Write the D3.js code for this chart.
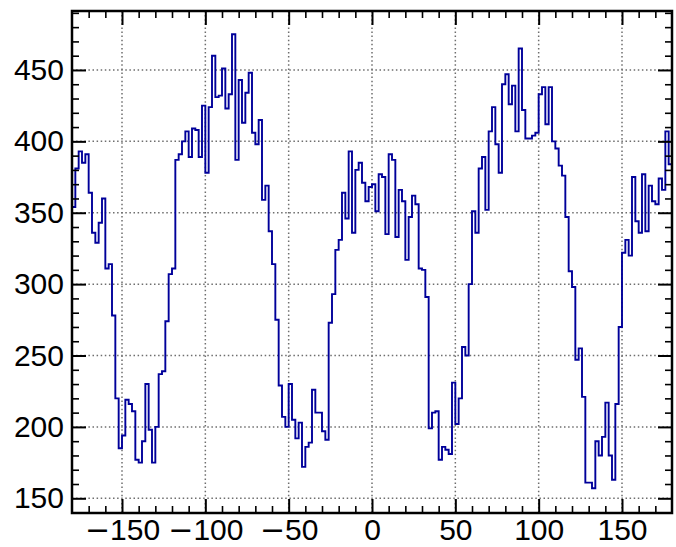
<!DOCTYPE html>
<html>
<head>
<meta charset="utf-8">
<script src="https://cdn.jsdelivr.net/npm/d3@7"></script>
<style>
  body { margin: 0; background: #fff; }
  #chart text { font-family: "Liberation Sans", Arial, Helvetica, sans-serif; }
</style>
</head>
<body>
<div id="chart"></div>
<script>
// Histogram settings: 180 bins of 2 units from -180 to 180
const binStart = -180;
const binWidth = 2;

// Bin contents (10 bins per row)
const counts = [
  354, 381, 393, 385, 391, 364, 336, 329, 343, 360,
  311, 314, 278, 220, 185, 194, 219, 216, 211, 177,
  175, 190, 230, 198, 175, 200, 237, 239, 274, 307,
  311, 387, 391, 400, 407, 389, 409, 408, 389, 425,
  378, 424, 460, 431, 432, 451, 423, 433, 475, 387,
  443, 413, 434, 448, 406, 398, 415, 359, 369, 337,
  314, 275, 229, 207, 200, 230, 205, 192, 203, 172,
  186, 189, 226, 210, 210, 197, 191, 273, 293, 324,
  331, 364, 346, 393, 336, 380, 385, 371, 358, 368,
  370, 351, 377, 375, 335, 391, 387, 333, 366, 358,
  317, 347, 362, 356, 311, 310, 291, 199, 210, 211,
  177, 186, 184, 181, 231, 202, 220, 256, 250, 300,
  351, 336, 381, 389, 352, 407, 424, 398, 378, 440,
  447, 426, 439, 407, 465, 422, 402, 402, 404, 406,
  433, 438, 412, 438, 400, 395, 383, 376, 347, 309,
  298, 247, 255, 221, 161, 161, 157, 190, 180, 193,
  217, 180, 163, 216, 270, 322, 331, 320, 375, 344,
  336, 377, 337, 369, 358, 356, 374, 366, 407, 384
];

// Tick values
const xMajorTicks = [-150, -100, -50, 0, 50, 100, 150];
const yMajorTicks = [150, 200, 250, 300, 350, 400, 450];
const xMinorTicks = d3.range(-170, 180, 10).filter(d => d % 50 !== 0);
const yMinorTicks = d3.range(140, 500, 10).filter(d => d % 50 !== 0);

// Margins and dimensions
const margin = { top: 11, right: 4, bottom: 34, left: 72 };
const width = 676 - margin.left - margin.right;
const height = 547 - margin.top - margin.bottom;
const fontSize = 30;

const svg = d3.select("#chart")
    .append("svg")
    .attr("width", width + margin.left + margin.right)
    .attr("height", height + margin.top + margin.bottom)
  .append("g")
    .attr("transform", `translate(${margin.left}, ${margin.top})`);

// Scales
const x = d3.scaleLinear().domain([-180, 180]).range([0, width]);
const y = d3.scaleLinear().domain([139.7, 491.3]).range([height, 0]);

// Dotted grid
const grid = svg.append("g").attr("class", "grid")
    .attr("stroke", "#6e6e6e")
    .attr("stroke-width", 1.5)
    .attr("stroke-dasharray", "1.5,2.6");

grid.selectAll(".vgrid")
    .data(xMajorTicks)
    .enter()
    .append("line")
    .attr("x1", d => x(d)).attr("x2", d => x(d))
    .attr("y1", 0).attr("y2", height);

grid.selectAll(".hgrid")
    .data(yMajorTicks)
    .enter()
    .append("line")
    .attr("x1", 0).attr("x2", width)
    .attr("y1", d => y(d)).attr("y2", d => y(d));

// Step line
svg.append("clipPath").attr("id", "clip")
  .append("rect").attr("width", width).attr("height", height);

const points = counts.map((c, i) => ({ edge: binStart + i * binWidth, count: c }));
points.push({ edge: binStart + counts.length * binWidth, count: counts[counts.length - 1] });

const line = d3.line()
    .x(d => x(d.edge))
    .y(d => y(d.count))
    .curve(d3.curveStepAfter);

svg.append("path")
    .datum(points)
    .attr("clip-path", "url(#clip)")
    .attr("fill", "none")
    .attr("stroke", "#00009a")
    .attr("stroke-width", 1.9)
    .attr("d", line);

// Axes with inward ticks on all four sides
const majorLen = 14, minorLen = 7;

function styleAxis(g, w) {
    g.select(".domain").remove();
    g.selectAll(".tick line").attr("stroke", "#000").attr("stroke-width", w);
}

// x labels: wide minus sign (falls back to DejaVu in the original)
svg.append("g")
    .attr("transform", `translate(0, ${height})`)
    .call(d3.axisBottom(x).tickValues(xMajorTicks).tickSizeInner(-majorLen).tickSizeOuter(0).tickPadding(6))
    .call(g => styleAxis(g, 2))
    .call(g => g.selectAll("text")
        .attr("font-size", fontSize)
        .attr("fill", "#000")
        .each(function(d) {
            const t = d3.select(this).text("");
            if (d < 0) {
                t.append("tspan").style("font-family", "'DejaVu Sans'").text("\u2212");
            }
            t.append("tspan").text(Math.abs(d));
        }));

svg.append("g")
    .attr("transform", `translate(0, ${height})`)
    .call(d3.axisBottom(x).tickValues(xMinorTicks).tickSizeInner(-minorLen).tickSizeOuter(0).tickFormat(""))
    .call(g => styleAxis(g, 1.6));

svg.append("g")
    .call(d3.axisTop(x).tickValues(xMajorTicks).tickSizeInner(-majorLen).tickSizeOuter(0).tickFormat(""))
    .call(g => styleAxis(g, 2));

svg.append("g")
    .call(d3.axisTop(x).tickValues(xMinorTicks).tickSizeInner(-minorLen).tickSizeOuter(0).tickFormat(""))
    .call(g => styleAxis(g, 1.6));

svg.append("g")
    .call(d3.axisLeft(y).tickValues(yMajorTicks).tickSizeInner(-majorLen).tickSizeOuter(0).tickPadding(8))
    .call(g => styleAxis(g, 2))
    .call(g => g.selectAll("text").attr("font-size", fontSize).attr("fill", "#000"));

svg.append("g")
    .call(d3.axisLeft(y).tickValues(yMinorTicks).tickSizeInner(-minorLen).tickSizeOuter(0).tickFormat(""))
    .call(g => styleAxis(g, 1.6));

svg.append("g")
    .attr("transform", `translate(${width}, 0)`)
    .call(d3.axisRight(y).tickValues(yMajorTicks).tickSizeInner(-majorLen).tickSizeOuter(0).tickFormat(""))
    .call(g => styleAxis(g, 2));

svg.append("g")
    .attr("transform", `translate(${width}, 0)`)
    .call(d3.axisRight(y).tickValues(yMinorTicks).tickSizeInner(-minorLen).tickSizeOuter(0).tickFormat(""))
    .call(g => styleAxis(g, 1.6));

// Frame
svg.append("rect")
    .attr("width", width)
    .attr("height", height)
    .attr("fill", "none")
    .attr("stroke", "#000")
    .attr("stroke-width", 2.5);
</script>
</body>
</html>
